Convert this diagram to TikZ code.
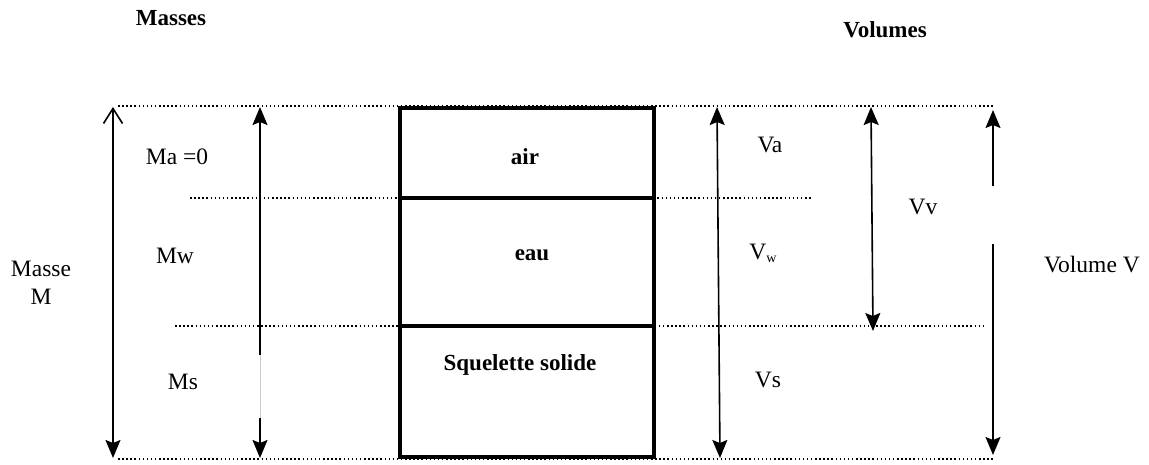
\documentclass[tikz,border=0pt]{standalone}
\usepackage{fontspec}
\setmainfont{Liberation Serif}
\usetikzlibrary{arrows.meta}
\tikzset{
  pointille/.style={line width=1.5pt,dash pattern=on 1.5pt off 2.6pt},
  pointe/.tip={Stealth[length=18pt,width=15pt,inset=3pt]},
  fleche/.style={line width=1.6pt,pointe-pointe},
  titre/.style={font=\fontsize{23}{27}\selectfont\bfseries},
  etiq/.style={font=\fontsize{23.5}{28}\selectfont,align=center},
}
\begin{document}
\begin{tikzpicture}[x=1pt,y=-1pt]
\useasboundingbox (0,0) rectangle (1149,464);
%niveaux
\coordinate (hautG) at (118,106);
\coordinate (hautD) at (993,106);
\coordinate (basG) at (118,459);
\coordinate (basD) at (993,459);
\draw[pointille](hautG)--(hautD);%haut
\draw[pointille](basG)--(basD);%bas
\draw[pointille](190,198)--(812,198);%air/eau
\draw[pointille](175,326)--(983,326);%eau/solide
%boite
\draw[line width=4pt,fill=white](400,108)rectangle(654,457);
\draw[line width=4pt](400,198)--(654,198);
\draw[line width=4pt](400,326)--(654,326);
%fleches masses
\coordinate (m1) at (113,107);
\coordinate (m2) at (113,458);
\draw[line width=1.6pt,{Straight Barb[length=15pt,width=19pt]}-pointe](m1)--(m2);%masse M
\coordinate (ms1) at (260,107);
\coordinate (ms2) at (260,355);
\coordinate (ms3) at (260,418);
\coordinate (ms4) at (260,458);
\draw[line width=1.6pt,-pointe](ms2)--(ms1);
\draw[line width=0.8pt,black!20](ms2)--(ms3);%coupure
\draw[line width=1.6pt,-pointe](ms3)--(ms4);
%fleches volumes
\coordinate (v1) at (717,107);
\coordinate (v2) at (720,458);
\draw[fleche](v1)--(v2);%Va+Vw+Vs
\coordinate (vv1) at (871,107);
\coordinate (vv2) at (873,331);
\draw[fleche](vv1)--(vv2);%Vv
\coordinate (vt1) at (993,110);
\coordinate (vt2) at (993,186);
\coordinate (vt3) at (993,244);
\coordinate (vt4) at (993,455);
\draw[line width=1.6pt,-pointe](vt2)--(vt1);
\draw[line width=1.6pt,-pointe](vt3)--(vt4);
%textes
\node[titre] (masses) at (171,18) {Masses};
\node[titre] (volumes) at (885,30) {Volumes};
\node[etiq] (ma) at (177,157) {Ma =0};
\node[etiq] (mw) at (175,256) {Mw};
\node[etiq] (masse) at (41,283) {Masse\\M};
\node[etiq] (msol) at (183,382) {Ms};
\node[titre] (air) at (525,157) {air};
\node[titre] (eau) at (532,255) {eau};
\node[titre] (sol) at (520,365) {Squelette solide};
\node[etiq] (va) at (770,145) {Va};
\node[etiq] (vw) at (763,253) {V\raisebox{-0.3ex}{\fontsize{14}{14}\selectfont w}};
\node[etiq] (vv) at (923,207) {Vv};
\node[etiq] (vs) at (768,380) {Vs};
\node[etiq] (vol) at (1092,265) {Volume V};
\end{tikzpicture}
\end{document}
